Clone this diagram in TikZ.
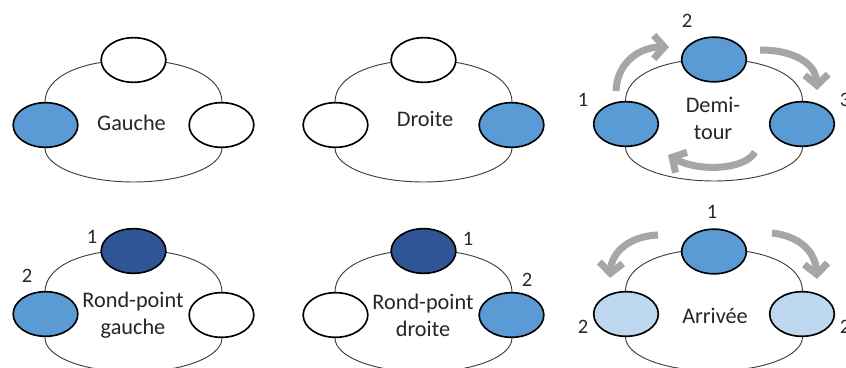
\documentclass[tikz,border=0pt]{standalone}
\usepackage{fontspec}
\setmainfont{Carlito}
\usetikzlibrary{shapes.geometric, arrows.meta}

\definecolor{laneblue}{RGB}{91,155,213}
\definecolor{darkblue}{RGB}{47,85,151}
\definecolor{paleblue}{RGB}{189,215,238}
\definecolor{arrowgray}{RGB}{166,166,166}
\definecolor{textgray}{RGB}{38,38,38}

\begin{document}
\begin{tikzpicture}[
    x=0.3mm, y=-0.3mm,
    ring line/.style={
      draw=black!75,
      line width=0.8pt
    },
    ring/.pic={
      \draw[ring line] (-88.5,-19) .. controls (-88.5,-44) and (-53,-61) .. (0,-61)
        .. controls (53,-61) and (88.5,-44) .. (88.5,-19)
        -- (88.5,27) .. controls (88.5,46) and (49,61) .. (0,61)
        .. controls (-49,61) and (-88.5,46) .. (-88.5,27) -- cycle;
    },
    road arm/.style={
      ellipse,
      draw=black,
      line width=1.4pt,
      fill=white,
      minimum width=19.4mm,
      minimum height=13.4mm,
      inner sep=0pt
    },
    arm on/.style={road arm, fill=laneblue},
    arm first/.style={road arm, fill=darkblue},
    arm soft/.style={road arm, fill=paleblue},
    road label/.style={
      align=center,
      inner sep=0pt,
      text=textgray,
      font=\fontsize{19}{23}\selectfont
    },
    num/.style={
      inner sep=0pt,
      text=textgray,
      font=\fontsize{17.5}{21}\selectfont
    },
    turn arrow/.style={
      -{Straight Barb[length=9pt,width=20pt]},
      line width=6pt,
      draw=arrowgray
    }
  ]

    \fill[white] (0,0) rectangle (846,368);
    \clip (0,0) rectangle (846,368);

    % Gauche
    \pic at (133.5,121) {ring};
    \node[arm on] (g-left) at (45.5,125) {};
    \node[road arm] (g-right) at (221.5,125) {};
    \node[road arm] (g-top) at (133.5,60) {};
    \node[road label] (g-label) at (131.5,122.5) {Gauche};

    % Droite
    \pic at (423.5,121) {ring};
    \node[road arm] (d-left) at (335.5,125) {};
    \node[arm on] (d-right) at (511.5,125) {};
    \node[road arm] (d-top) at (423.5,60) {};
    \node[road label] (d-label) at (425,118.5) {Droite};

    % Demi-tour
    \pic at (714,120) {ring};
    \node[arm on] (u-left) at (626,124) {};
    \node[arm on] (u-right) at (802,124) {};
    \node[arm on] (u-top) at (714,59.5) {};
    \node[road label] (u-label) at (713,118.5) {Demi-\\tour};
    \node[num] (u-n1) at (583,100) {1};
    \node[num] (u-n2) at (687,21) {2};
    \node[num] (u-n3) at (845,100) {3};

    \coordinate (u-a1) at (616,91);
    \coordinate (u-b1) at (669,47);
    \coordinate (u-b2) at (760,50);
    \coordinate (u-c1) at (817,90);
    \coordinate (u-c2) at (755,152);
    \coordinate (u-a2) at (668,155);
    \draw[turn arrow] (u-a1) .. controls (617,62) and (640,47) .. (u-b1);
    \draw[turn arrow] (u-b2) .. controls (795,50) and (816,64) .. (u-c1);
    \draw[turn arrow] (u-c2) .. controls (745,170) and (698,172) .. (u-a2);

    % Rond-point gauche
    \pic at (133.5,311) {ring};
    \node[arm on] (rg-left) at (45.5,314) {};
    \node[road arm] (rg-right) at (221.5,315) {};
    \node[arm first] (rg-top) at (133.5,251) {};
    \node[road label] (rg-label) at (133,315) {Rond-point\\gauche};
    \node[num] (rg-n1) at (92,237) {1};
    \node[num] (rg-n2) at (27,276) {2};

    % Rond-point droite
    \pic at (423.5,311) {ring};
    \node[road arm] (rd-left) at (335.5,315) {};
    \node[arm on] (rd-right) at (511.5,315) {};
    \node[arm first] (rd-top) at (423.5,251) {};
    \node[road label] (rd-label) at (423,315) {Rond-point\\droite};
    \node[num] (rd-n1) at (468,239) {1};
    \node[num] (rd-n2) at (527,280) {2};

    % Arrivee
    \pic at (714,310) {ring};
    \node[arm soft] (a-left) at (626,314) {};
    \node[arm soft] (a-right) at (802,314) {};
    \node[arm on] (a-top) at (714,251.5) {};
    \node[road label] (a-label) at (715,316) {Arrivée};
    \node[num] (a-n1) at (712,212) {1};
    \node[num] (a-n2) at (583,327) {2};
    \node[num] (a-n3) at (845,327) {2};

    \coordinate (a-l1) at (658,235);
    \coordinate (a-l2) at (610,278);
    \coordinate (a-r1) at (772,233);
    \coordinate (a-r2) at (817,279);
    \draw[turn arrow] (a-l1) .. controls (632,236) and (612,250) .. (a-l2);
    \draw[turn arrow] (a-r1) .. controls (798,236) and (815,250) .. (a-r2);

  \end{tikzpicture}
\end{document}
